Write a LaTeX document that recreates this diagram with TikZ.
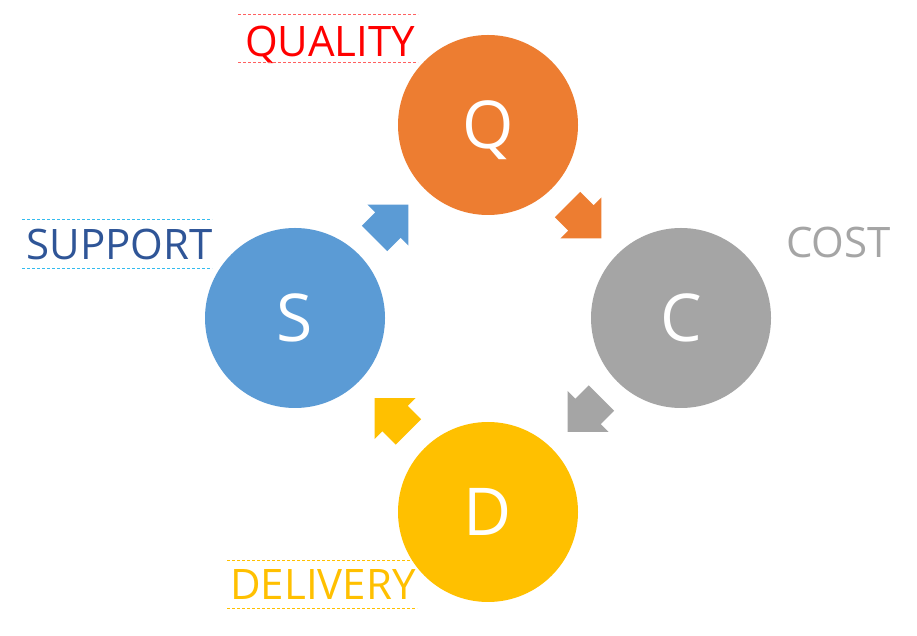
\documentclass[tikz,border=0pt]{standalone}
\usepackage{fontspec}
\setmainfont{Open Sans}
\usetikzlibrary{calc}
\definecolor{qorange}{HTML}{ED7D31}
\definecolor{cgray}{HTML}{A5A5A5}
\definecolor{dyellow}{HTML}{FFC000}
\definecolor{sblue}{HTML}{5B9BD5}
\definecolor{qred}{HTML}{FF0000}
\definecolor{sdark}{HTML}{2F5597}
\definecolor{scyan}{HTML}{33BBEE}
\definecolor{qdash}{HTML}{FF6060}
\tikzset{
  ball/.style={circle, minimum size=180pt, inner sep=0pt, draw=none},
  ballletter/.style={text=white, font=\fontsize{66}{66}\selectfont, anchor=base, inner sep=0pt},
  lbl/.style={font=\fontsize{42}{42}\selectfont, anchor=base, inner sep=0pt},
  dashln/.style={line width=0.8pt, dash pattern=on 3pt off 2pt},
}
\newcommand{\blockarrow}[3]{%
  \fill[#1, shift={(#2)}, rotate=#3] (24,0) -- (-5,29) -- (-5,18) -- (-24,18) -- (-24,-18) -- (-5,-18) -- (-5,-29) -- cycle;}
\begin{document}
\begin{tikzpicture}[x=1pt,y=1pt]
\useasboundingbox (0,0) rectangle (917,636);
\fill[white] (0,0) rectangle (917,636);
% circles
\node[ball, fill=qorange] (Q) at (488,511) {};
\node[ball, fill=cgray] (C) at (681,318) {};
\node[ball, fill=dyellow] (D) at (488,124) {};
\node[ball, fill=sblue] (S) at (295,318) {};
\node[ballletter] (Ql) at ([yshift=-24pt]Q.center) {Q};
\node[ballletter] (Cl) at ([yshift=-24pt]C.center) {C};
\node[ballletter] (Dl) at ([yshift=-24pt]D.center) {D};
\node[ballletter] (Sl) at ([yshift=-24pt]S.center) {S};
% arrows
\coordinate (sq) at ($(S.center)!0.5!(Q.center)$);
\coordinate (qc) at ($(Q.center)!0.5!(C.center)$);
\coordinate (cd) at ($(C.center)!0.5!(D.center)$);
\coordinate (ds) at ($(D.center)!0.5!(S.center)$);
\blockarrow{sblue}{sq}{45}
\blockarrow{qorange}{qc}{-45}
\blockarrow{cgray}{cd}{-135}
\blockarrow{dyellow}{ds}{135}
% labels
\node[lbl, text=qred] (ql) at (330,579) {QUALITY};
\draw[dashln, qdash] (238,622) -- (418,622);
\draw[dashln, qdash] (238,574) -- (418,574);
\node[lbl, text=sdark] (sl) at (119.5,376) {SUPPORT};
\draw[dashln, scyan] (22,417) -- (212,417);
\draw[dashln, scyan] (22,368) -- (212,368);
\node[lbl, text=cgray] (cl) at (838.5,378) {COST};
\node[lbl, text=dyellow] (dl) at (323,36) {DELIVERY};
\draw[dashln, dyellow] (227,76) -- (417,76);
\draw[dashln, dyellow] (227,28) -- (417,28);
\end{tikzpicture}
\end{document}
